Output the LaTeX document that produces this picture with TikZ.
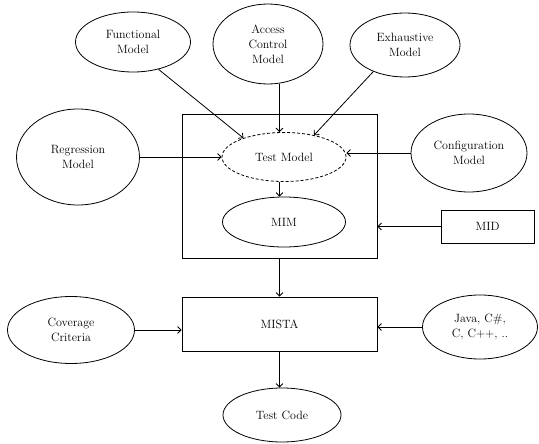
\documentclass[tikz,border=0pt]{standalone}
\usetikzlibrary{shapes.geometric,arrows.meta}
\begin{document}
\begin{tikzpicture}[x=1pt,y=-1pt,
  every node/.style={font=\fontsize{12}{15}\selectfont, align=center, inner sep=0pt},
  ell/.style={ellipse, draw, line width=0.8pt},
  rbox/.style={rectangle, draw, line width=0.8pt},
  arr/.style={-{Straight Barb[length=3.5pt,width=7pt]}, line width=0.8pt}]
\useasboundingbox (0,0) rectangle (539,444);
% outer box
\node[rbox, minimum width=195pt, minimum height=144pt] (box) at (279.5,186) {};
\node[ell, minimum width=115pt, minimum height=60pt] (fm) at (133,42) {Functional\\Model};
\node[ell, minimum width=110pt, minimum height=80pt] (acm) at (268,44) {Access\\Control\\Model};
\node[ell, minimum width=110pt, minimum height=64pt] (em) at (405,45) {Exhaustive\\Model};
\node[ell, minimum width=123pt, minimum height=96pt] (rm) at (78,157) {Regression\\Model};
\node[ell, minimum width=116pt, minimum height=78pt] (cm) at (469,153) {Configuration\\Model};
\node[ell, dashed, dash pattern=on 3pt off 2pt, minimum width=124pt, minimum height=49pt] (tm) at (284,157) {Test Model};
\node[ell, minimum width=123pt, minimum height=50pt] (mim) at (284,222) {MIM};
\node[rbox, minimum width=93pt, minimum height=33pt] (mid) at (487.5,226.5) {MID};
\node[rbox, minimum width=195pt, minimum height=54pt] (mista) at (279.5,324) {MISTA};
\node[ell, minimum width=127pt, minimum height=67pt] (cc) at (71,330) {Coverage\\Criteria};
\node[ell, minimum width=115pt, minimum height=64pt] (java) at (480,327) {Java, C\#,\\C, C++, ..};
\node[ell, minimum width=118pt, minimum height=54pt] (tc) at (282,415) {Test Code};
% connectors
\draw[arr] (fm.-47) -- (tm.155);
\draw[arr] (acm.south -| box.north) -- (tm.north -| box.north);
\draw[arr] (em.-140) -- (tm.36);
\draw[arr] (rm) -- (tm);
\draw[arr] (cm.west) -- (tm.east |- cm.west);
\draw[arr] (tm.south -| box.north) -- (mim.north -| box.north);
\draw[arr] (mid.west) -- (mid.west -| box.east);
\draw[arr] (box.south) -- (mista.north);
\draw[arr] (cc.east) -- (cc.east -| mista.west);
\draw[arr] (java.west) -- (java.west -| mista.east);
\draw[arr] (mista.south) -- (mista.south |- tc.north);
\end{tikzpicture}
\end{document}
